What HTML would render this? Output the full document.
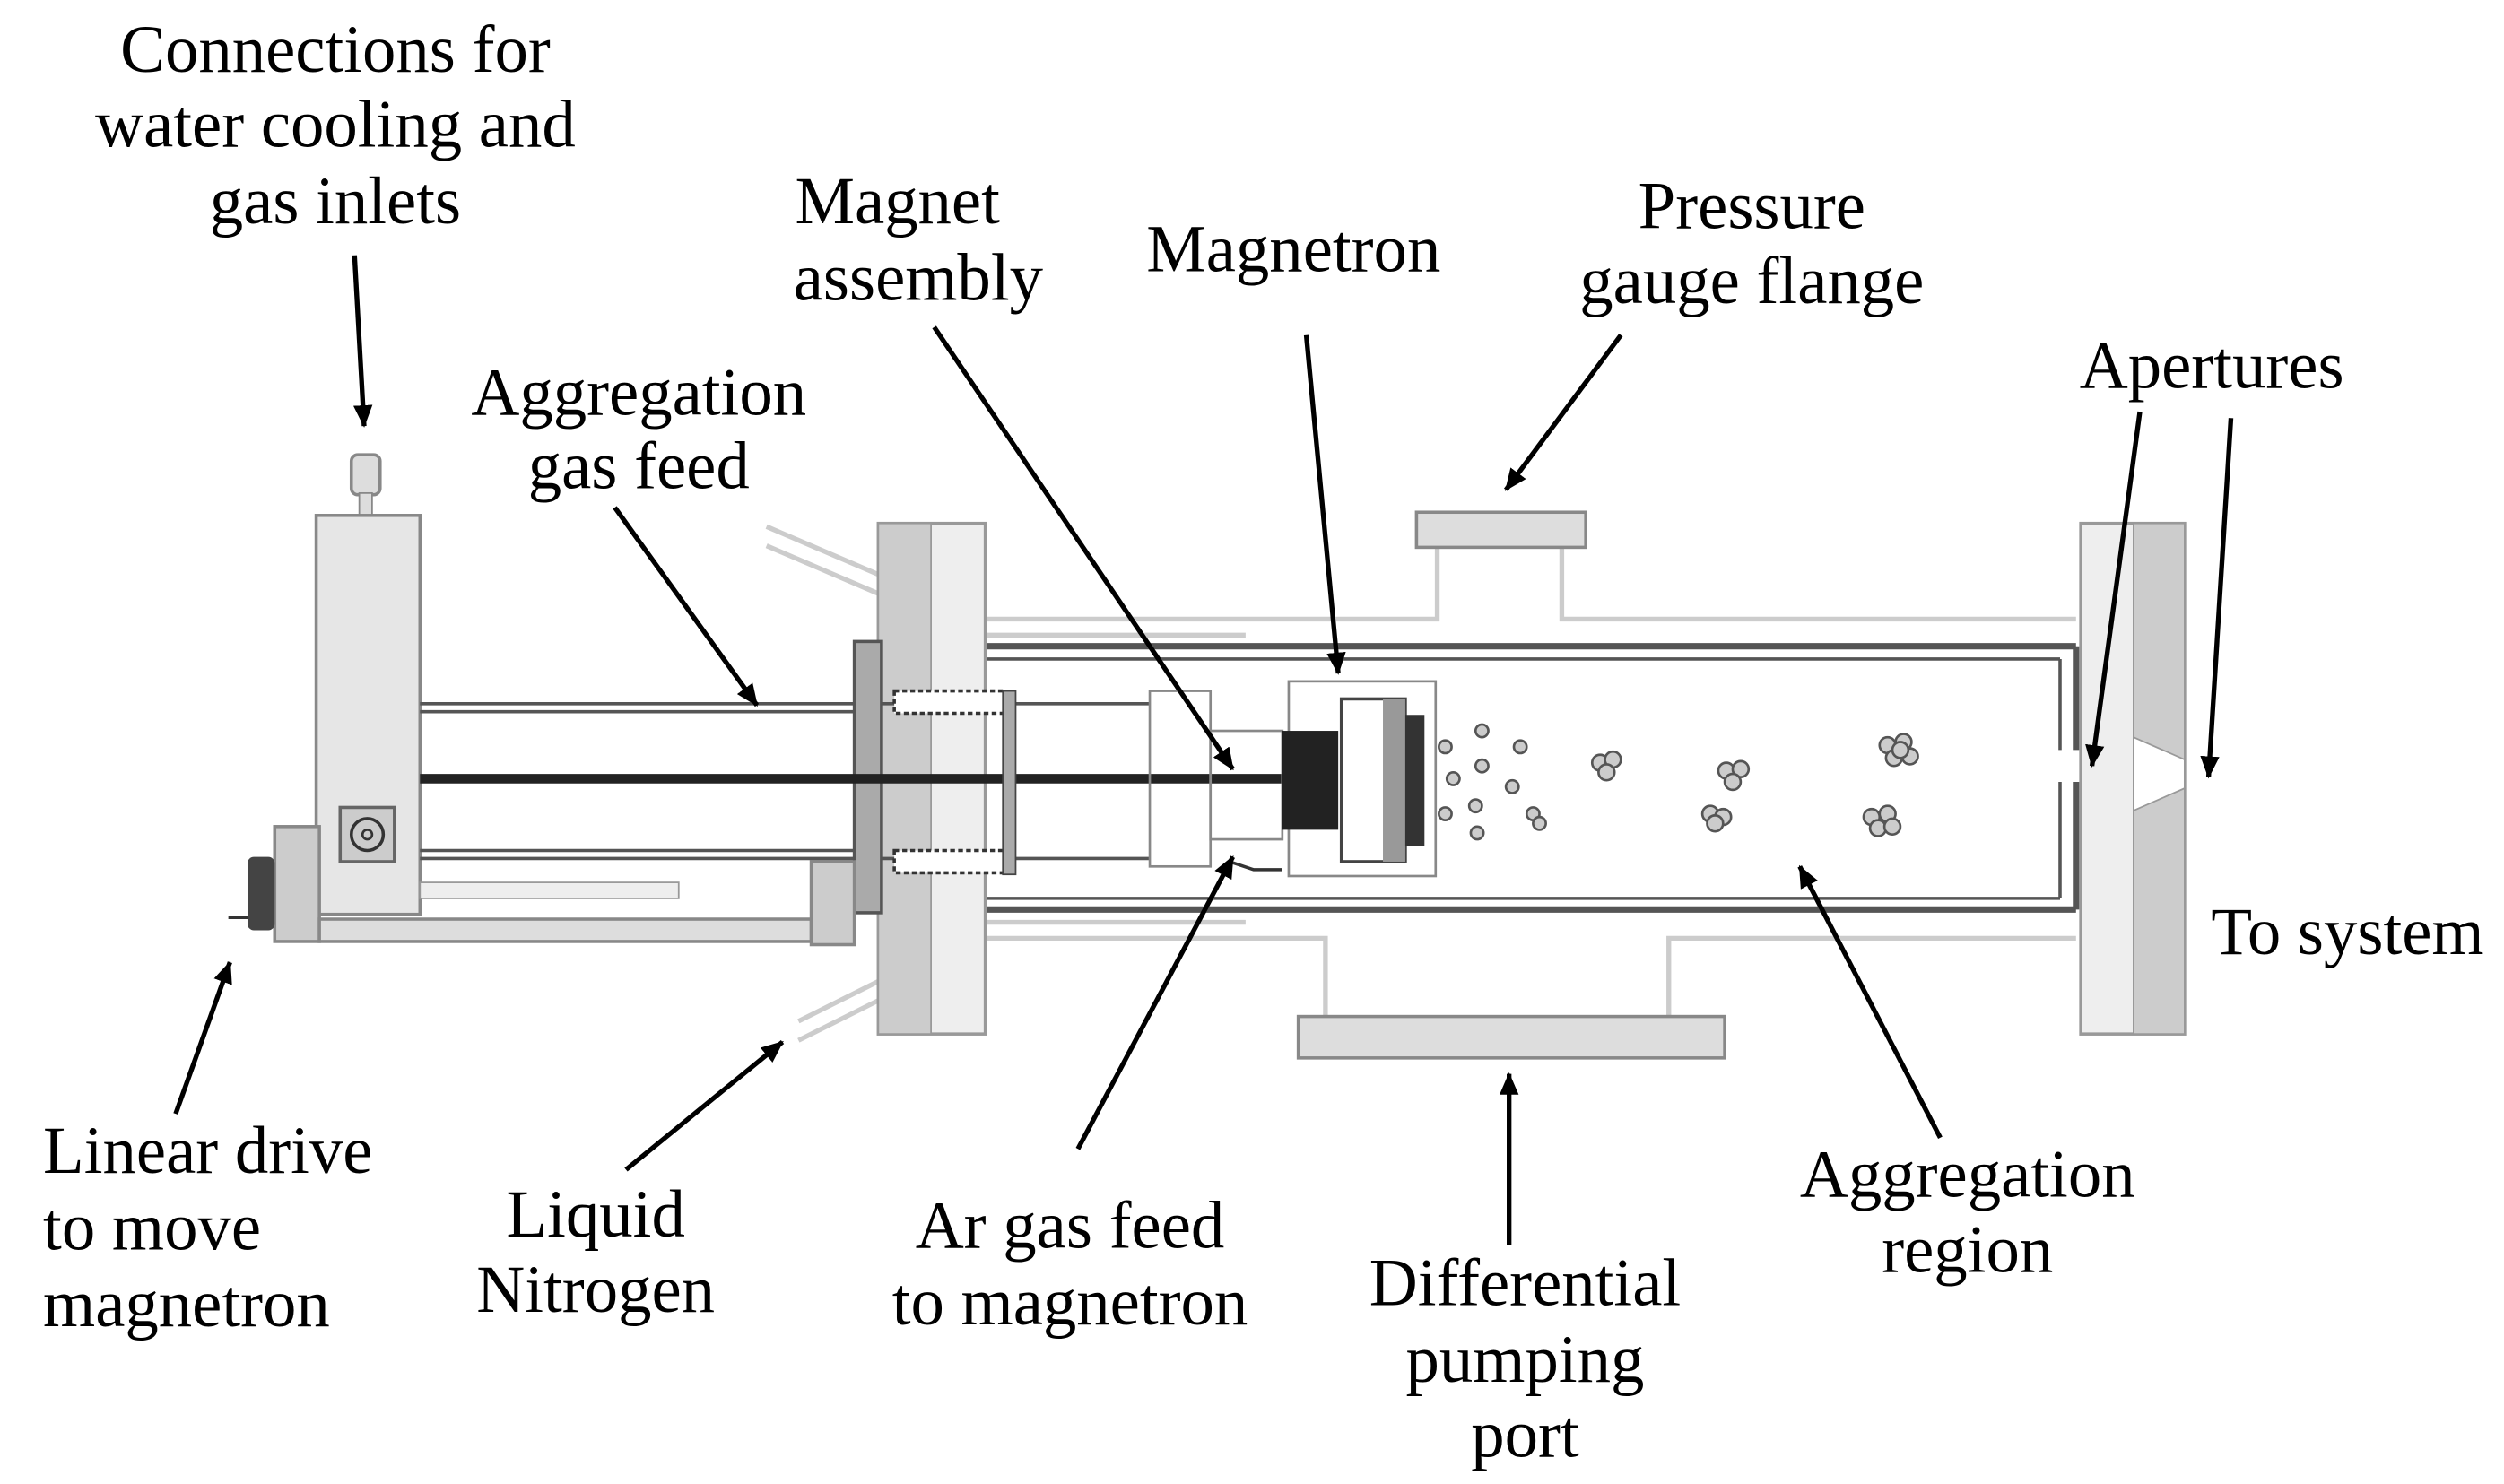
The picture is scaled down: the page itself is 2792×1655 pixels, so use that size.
<!DOCTYPE html>
<html><head><meta charset="utf-8">
<style>
html,body{margin:0;padding:0;background:#fff;}
svg{display:block;}
text{font-family:"Liberation Serif",serif;font-size:42px;fill:#000;}
</style></head>
<body>
<svg width="2792" height="1655" viewBox="0 0 1568 930" preserveAspectRatio="none" xmlns="http://www.w3.org/2000/svg">
<defs>
<marker id="ah" markerWidth="14" markerHeight="12" refX="13" refY="6" orient="auto" markerUnits="userSpaceOnUse" viewBox="0 0 14 12">
<path d="M0,0 L14,6 L0,12 z" fill="#000"/>
</marker>
</defs>
<rect width="1568" height="930" fill="#fff"/>

<g fill="none" stroke="#ccc" stroke-width="3">
<polyline points="617,388 900,388 900,343"/>
<polyline points="978,343 978,388 1300,388"/>
<polyline points="617,588 830,588 830,637"/>
<polyline points="1045,637 1045,588 1300,588"/>
<line x1="480" y1="330" x2="550" y2="360"/>
<line x1="480" y1="342" x2="550" y2="372"/>
<line x1="500" y1="640" x2="550" y2="615"/>
<line x1="500" y1="652" x2="550" y2="627"/>
<line x1="617" y1="398" x2="780" y2="398"/>
<line x1="617" y1="578" x2="780" y2="578"/>
</g>

<g stroke="#555" fill="none">
<line x1="617" y1="405" x2="1300" y2="405" stroke-width="4"/>
<line x1="617" y1="413" x2="1290" y2="413" stroke-width="2"/>
<line x1="617" y1="563" x2="1290" y2="563" stroke-width="2"/>
<line x1="617" y1="570" x2="1300" y2="570" stroke-width="4"/>
<line x1="1300" y1="405" x2="1300" y2="470" stroke-width="4"/>
<line x1="1300" y1="490" x2="1300" y2="570" stroke-width="4"/>
<line x1="1290" y1="413" x2="1290" y2="470" stroke-width="2"/>
<line x1="1290" y1="490" x2="1290" y2="563" stroke-width="2"/>
</g>

<rect x="887" y="321" width="106" height="22" fill="#ddd" stroke="#888" stroke-width="2"/>
<rect x="813" y="637" width="267" height="26" fill="#ddd" stroke="#888" stroke-width="2"/>

<g>
<rect x="1303" y="328" width="65" height="320" fill="#eee" stroke="#999" stroke-width="2"/>
<rect x="1336" y="328" width="32" height="320" fill="#ccc" stroke="#999" stroke-width="1"/>
<polygon points="1336,462 1368,476 1368,494 1336,508" fill="#fff" stroke="#999"/>
</g>

<g>
<rect x="550" y="328" width="67" height="320" fill="#eee" stroke="#999" stroke-width="2"/>
<rect x="550" y="328" width="33" height="320" fill="#ccc" stroke="#999" stroke-width="1"/>
<rect x="535" y="402" width="17" height="170" fill="#aaa" stroke="#555" stroke-width="2"/>
</g>

<g>
<rect x="220" y="285" width="18" height="25" rx="4" fill="#ddd" stroke="#888" stroke-width="2"/>
<rect x="225" y="309" width="8" height="15" fill="#ddd" stroke="#888"/>
<rect x="198" y="323" width="65" height="250" fill="#e6e6e6" stroke="#888" stroke-width="2"/>
<rect x="213" y="506" width="34" height="34" fill="#ccc" stroke="#666" stroke-width="2"/>
<circle cx="230" cy="523" r="10" fill="none" stroke="#333" stroke-width="2"/>
<circle cx="230" cy="523" r="3" fill="none" stroke="#333" stroke-width="1.5"/>
<rect x="172" y="518" width="28" height="72" fill="#ccc" stroke="#888" stroke-width="2"/>
<rect x="155" y="537" width="17" height="46" rx="4" fill="#444"/>
<line x1="143" y1="575" x2="155" y2="575" stroke="#333" stroke-width="2"/>
<rect x="200" y="576" width="308" height="14" fill="#ddd" stroke="#888" stroke-width="2"/>
<rect x="263" y="553" width="162" height="10" fill="#eee" stroke="#999"/>
<rect x="508" y="540" width="27" height="52" fill="#ccc" stroke="#888" stroke-width="2"/>
</g>

<g>
<line x1="263" y1="441" x2="535" y2="441" stroke="#555" stroke-width="2"/>
<line x1="263" y1="446" x2="535" y2="446" stroke="#555" stroke-width="2"/>
<line x1="263" y1="488" x2="810" y2="488" stroke="#222" stroke-width="6"/>
<line x1="263" y1="533" x2="535" y2="533" stroke="#555" stroke-width="2"/>
<line x1="263" y1="538" x2="535" y2="538" stroke="#555" stroke-width="2"/>
<line x1="552" y1="441" x2="720" y2="441" stroke="#555" stroke-width="2"/>
<line x1="552" y1="538" x2="720" y2="538" stroke="#555" stroke-width="2"/>
</g>

<g>
<rect x="560" y="433" width="70" height="14" fill="#fff" stroke="#333" stroke-width="2" stroke-dasharray="3,2"/>
<rect x="560" y="533" width="70" height="14" fill="#fff" stroke="#333" stroke-width="2" stroke-dasharray="3,2"/>
<rect x="628" y="433" width="8" height="115" fill="#aaa" stroke="#444"/>
</g>

<g>
<rect x="720" y="433" width="38" height="110" fill="none" stroke="#888" stroke-width="1.5"/>
<rect x="758" y="458" width="45" height="68" fill="none" stroke="#888" stroke-width="1.5"/>
<rect x="807" y="427" width="92" height="122" fill="none" stroke="#888" stroke-width="1.5"/>
<rect x="803" y="458" width="35" height="62" fill="#222"/>
<rect x="840" y="438" width="40" height="102" fill="#fff" stroke="#444" stroke-width="2"/>
<rect x="866" y="438" width="14" height="102" fill="#999"/>
<rect x="880" y="448" width="12" height="82" fill="#333"/>
<polyline points="770,540 785,545 803,545" fill="none" stroke="#333" stroke-width="2"/>
</g>

<g fill="#ccc" stroke="#555" stroke-width="1.5">
<circle cx="905" cy="468" r="4"/><circle cx="928" cy="458" r="4"/><circle cx="952" cy="468" r="4"/>
<circle cx="910" cy="488" r="4"/><circle cx="928" cy="480" r="4"/><circle cx="947" cy="493" r="4"/>
<circle cx="905" cy="510" r="4"/><circle cx="924" cy="505" r="4"/><circle cx="925" cy="522" r="4"/>
<circle cx="960" cy="510" r="4"/><circle cx="964" cy="516" r="4"/>
<circle cx="1002" cy="478" r="5"/><circle cx="1010" cy="476" r="5"/><circle cx="1006" cy="484" r="5"/>
<circle cx="1081" cy="483" r="5"/><circle cx="1090" cy="482" r="5"/><circle cx="1085" cy="490" r="5"/>
<circle cx="1071" cy="510" r="5"/><circle cx="1079" cy="512" r="5"/><circle cx="1074" cy="516" r="5"/>
<circle cx="1182" cy="467" r="5"/><circle cx="1192" cy="465" r="5"/><circle cx="1186" cy="475" r="5"/><circle cx="1196" cy="474" r="5"/><circle cx="1190" cy="470" r="5"/>
<circle cx="1172" cy="512" r="5"/><circle cx="1182" cy="510" r="5"/><circle cx="1176" cy="519" r="5"/><circle cx="1185" cy="518" r="5"/>
</g>

<g stroke="#000" stroke-width="3" marker-end="url(#ah)">
<line x1="222" y1="160" x2="228" y2="267"/>
<line x1="385" y1="318" x2="474" y2="442"/>
<line x1="585" y1="205" x2="772" y2="482"/>
<line x1="818" y1="210" x2="838" y2="422"/>
<line x1="1015" y1="210" x2="943" y2="307"/>
<line x1="1340" y1="258" x2="1310" y2="480"/>
<line x1="1397" y1="262" x2="1383" y2="487"/>
<line x1="110" y1="698" x2="144" y2="603"/>
<line x1="392" y1="733" x2="490" y2="653"/>
<line x1="675" y1="720" x2="772" y2="537"/>
<line x1="945" y1="780" x2="945" y2="673"/>
<line x1="1215" y1="713" x2="1127" y2="543"/>
</g>

<g>
<text x="210" y="45" text-anchor="middle">Connections for</text>
<text x="210" y="92" text-anchor="middle">water cooling and</text>
<text x="210" y="140" text-anchor="middle">gas inlets</text>
<text x="562" y="140" text-anchor="middle">Magnet</text>
<text x="575" y="188" text-anchor="middle">assembly</text>
<text x="810" y="170" text-anchor="middle">Magnetron</text>
<text x="1097" y="143" text-anchor="middle">Pressure</text>
<text x="1097" y="190" text-anchor="middle">gauge flange</text>
<text x="1385" y="243" text-anchor="middle">Apertures</text>
<text x="400" y="260" text-anchor="middle">Aggregation</text>
<text x="400" y="306" text-anchor="middle">gas feed</text>
<text x="1470" y="598" text-anchor="middle">To system</text>
<text x="27" y="735">Linear drive</text>
<text x="27" y="783">to move</text>
<text x="27" y="831">magnetron</text>
<text x="373" y="775" text-anchor="middle">Liquid</text>
<text x="373" y="822" text-anchor="middle">Nitrogen</text>
<text x="670" y="782" text-anchor="middle">Ar gas feed</text>
<text x="670" y="830" text-anchor="middle">to magnetron</text>
<text x="955" y="818" text-anchor="middle">Differential</text>
<text x="955" y="866" text-anchor="middle">pumping</text>
<text x="955" y="913" text-anchor="middle">port</text>
<text x="1232" y="750" text-anchor="middle">Aggregation</text>
<text x="1232" y="797" text-anchor="middle">region</text>
</g>
</svg>
</body></html>
